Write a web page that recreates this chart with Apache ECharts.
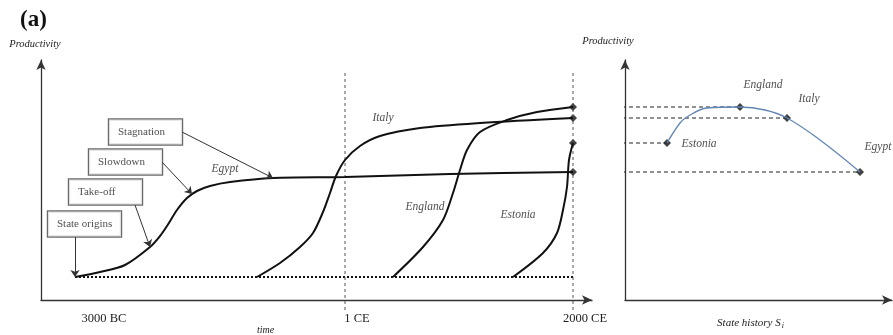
<!DOCTYPE html>
<html>
<head>
<meta charset="utf-8">
<script src="https://cdn.jsdelivr.net/npm/echarts@6/dist/echarts.min.js"></script>
<style>
  html, body { margin: 0; padding: 0; background: #fff; }
  #main { width: 893px; height: 335px; }
</style>
</head>
<body>
<div id="main"></div>
<script>
// schematic units: x = position along the axis, y = productivity level
// left panel (time)
var egyptX   = [34, 59, 84, 109, 119, 126, 136, 146, 156, 169, 189, 232, 304, 409, 532];
var egyptY   = [23, 28, 35, 53, 64, 74, 90, 102, 109, 114, 118, 122, 123, 126, 128];
var italyX   = [216, 239, 259, 272, 282, 289, 295, 304, 319, 339, 379, 439, 532];
var italyY   = [23, 37, 53, 67, 88, 107, 124, 140, 154, 164, 172, 177, 182];
var englandX = [352, 382, 402, 412, 419, 426, 439, 466, 496, 532];
var englandY = [23, 53, 80, 107, 130, 150, 168, 180, 188, 193];
var estoniaX = [472, 502, 516, 522, 526, 528, 532];
var estoniaY = [23, 47, 67, 90, 113, 140, 157];

var baseLevel = 23;
var timeTicks = [34, 304, 532];            // 3000 BC, 1 CE, 2000 CE
var tickLabelPos = [63, 316, 544];
var tickLabelNames = ['3000 BC', '1 CE', '2000 CE'];

// right panel (state history)
var states   = ['Estonia', 'England', 'Italy', 'Egypt'];
var stateX   = [626, 699, 746, 819];
var stateY   = [157, 193, 182, 128];
var histCurveX = [626, 639, 646, 666, 699, 724, 746, 779, 819];
var histCurveY = [157, 177, 183, 192, 193, 190, 182, 160, 128];

// phase boxes on the Egypt curve
var phaseNames = ['Stagnation', 'Slowdown', 'Take-off', 'State origins'];
var phaseBoxX  = [68, 48, 28, 7];
var phaseBoxY  = [168, 138, 108, 76];
var phaseFromX = [141, 121, 94, 34];
var phaseFromY = [168, 138, 95, 63];
var phaseToX   = [232, 151, 109, 34];
var phaseToY   = [122, 106, 53, 23];

// curve name labels
var leftNames  = ['Egypt', 'Italy', 'England', 'Estonia'];
var leftNameX  = [184, 342, 384, 477];
var leftNameY  = [131, 182, 93, 85];
var rightNameX = [658, 722, 768, 837];
var rightNameY = [156, 215, 201, 153];

function zip(xs, ys) {
  var out = [];
  for (var i = 0; i < xs.length; i++) out.push([xs[i], ys[i]]);
  return out;
}

var serif = '"Liberation Serif", "DejaVu Serif", serif';
var ink = '#111';

var axisLineStyle = { color: '#333', width: 1.3 };
function axisLine() {
  return { show: true, onZero: false, symbol: ['none', 'arrow'], symbolSize: [7, 10], lineStyle: axisLineStyle };
}

var series = [];

// dotted base line
series.push({
  type: 'line', xAxisIndex: 0, yAxisIndex: 0, symbol: 'none', silent: true,
  data: [[timeTicks[0], baseLevel], [timeTicks[2], baseLevel]],
  lineStyle: { color: ink, width: 2, type: [2, 2] }
});

// vertical dashed lines at 1 CE and 2000 CE
[timeTicks[1], timeTicks[2]].forEach(function (x) {
  series.push({
    type: 'line', xAxisIndex: 0, yAxisIndex: 0, symbol: 'none', silent: true, clip: false,
    data: [[x, -10], [x, 227]],
    lineStyle: { color: '#555', width: 1, type: [3, 3] }
  });
});

// country curves
[[egyptX, egyptY], [italyX, italyY], [englandX, englandY], [estoniaX, estoniaY]].forEach(function (c) {
  series.push({
    type: 'line', xAxisIndex: 0, yAxisIndex: 0, symbol: 'none', smooth: 0.3, silent: true,
    data: zip(c[0], c[1]),
    lineStyle: { color: ink, width: 2 }
  });
});

// connectors from 2000 CE to state history points
for (var i = 0; i < states.length; i++) {
  series.push({
    type: 'line', xAxisIndex: 1, yAxisIndex: 1, symbol: 'none', silent: true, clip: false,
    data: [[timeTicks[2], stateY[i]], [stateX[i], stateY[i]]],
    lineStyle: { color: '#222', width: 1.2, type: [4, 3] }
  });
}

// end diamonds at 2000 CE
series.push({
  type: 'scatter', xAxisIndex: 0, yAxisIndex: 0, symbol: 'diamond', symbolSize: 8, silent: true,
  data: stateY.map(function (y) { return [timeTicks[2], y]; }),
  itemStyle: { color: ink }
});

// state history curve
series.push({
  type: 'line', xAxisIndex: 1, yAxisIndex: 1, symbol: 'none', smooth: 0.4, silent: true,
  data: zip(histCurveX, histCurveY),
  lineStyle: { color: '#6386b4', width: 1.3 }
});
series.push({
  type: 'scatter', xAxisIndex: 1, yAxisIndex: 1, symbol: 'diamond', symbolSize: 8, silent: true,
  data: zip(stateX, stateY),
  itemStyle: { color: ink }
});

// phase boxes with arrows
series.push({
  type: 'scatter', xAxisIndex: 0, yAxisIndex: 0, symbolSize: 0, silent: true,
  data: phaseNames.map(function (n, i) {
    return { name: n, value: [phaseBoxX[i], phaseBoxY[i]] };
  }),
  label: {
    show: true, position: 'right', distance: 0,
    formatter: '{b}', fontFamily: serif, fontSize: 11, color: '#222',
    backgroundColor: '#fff', borderColor: '#444', borderWidth: 1.2,
    padding: [7, 8, 6, 9], width: 56, lineHeight: 12, overflow: 'none'
  },
  markLine: {
    silent: true, symbol: ['none', 'arrow'], symbolSize: 7,
    label: { show: false },
    lineStyle: { color: '#333', width: 1, type: 'solid' },
    data: phaseNames.map(function (n, i) {
      return [{ coord: [phaseFromX[i], phaseFromY[i]] }, { coord: [phaseToX[i], phaseToY[i]] }];
    })
  },
  z: 5
});

// country names
var nameLabel = { show: true, position: 'inside', formatter: '{b}', fontFamily: serif, fontStyle: 'italic', fontSize: 11.5, color: '#222' };
series.push({
  type: 'scatter', xAxisIndex: 0, yAxisIndex: 0, symbolSize: 0, silent: true,
  data: leftNames.map(function (n, i) { return { name: n, value: [leftNameX[i], leftNameY[i]] }; }),
  label: nameLabel
});
series.push({
  type: 'scatter', xAxisIndex: 1, yAxisIndex: 1, symbolSize: 0, silent: true, clip: false,
  data: states.map(function (n, i) { return { name: n, value: [rightNameX[i], rightNameY[i]] }; }),
  label: nameLabel
});

var chart = echarts.init(document.getElementById('main'));
chart.setOption({
  animation: false,
  backgroundColor: '#fff',
  title: {
    text: '(a)', left: 15, top: 4,
    textStyle: { fontFamily: serif, fontWeight: 'bold', fontSize: 23, color: '#111' }
  },
  grid: [
    { left: 41, top: 60, width: 551, height: 240, outerBoundsMode: 'none', containLabel: false },
    { left: 625, top: 60, width: 267, height: 240, outerBoundsMode: 'none', containLabel: false }
  ],
  xAxis: [{
    gridIndex: 0, type: 'value', min: 0, max: 551,
    axisLine: axisLine(), axisTick: { show: false }, splitLine: { show: false },
    axisLabel: {
      customValues: tickLabelPos, margin: 12,
      fontFamily: serif, fontSize: 12.5, color: '#222',
      formatter: function (v) { return tickLabelNames[tickLabelPos.indexOf(v)]; }
    },
    name: 'time', nameLocation: 'middle', nameGap: 25, nameMoveOverlap: false,
    nameTextStyle: { fontFamily: serif, fontStyle: 'italic', fontSize: 10, color: '#222', padding: [0, 102, 0, 0] }
  }, {
    gridIndex: 1, type: 'value', min: 584, max: 851,
    axisLine: axisLine(), axisTick: { show: false }, splitLine: { show: false },
    axisLabel: { show: false },
    name: '{a|State history S}{b|i}', nameLocation: 'middle', nameGap: 17, nameMoveOverlap: false,
    nameTextStyle: {
      padding: [0, 16, 0, 0],
      rich: {
        a: { fontFamily: serif, fontStyle: 'italic', fontSize: 11, color: '#222' },
        b: { fontFamily: serif, fontStyle: 'italic', fontSize: 8, color: '#222', padding: [5, 0, 0, 1] }
      }
    }
  }],
  yAxis: [{
    gridIndex: 0, type: 'value', min: 0, max: 240,
    axisLine: axisLine(), axisTick: { show: false }, splitLine: { show: false },
    axisLabel: { show: false },
    name: 'Productivity', nameLocation: 'end', nameGap: 10,
    nameTextStyle: { fontFamily: serif, fontStyle: 'italic', fontSize: 10.5, color: '#222', padding: [0, 12, 0, 0] }
  }, {
    gridIndex: 1, type: 'value', min: 0, max: 240,
    axisLine: axisLine(), axisTick: { show: false }, splitLine: { show: false },
    axisLabel: { show: false },
    name: 'Productivity', nameLocation: 'end', nameGap: 13,
    nameTextStyle: { fontFamily: serif, fontStyle: 'italic', fontSize: 10.5, color: '#222', padding: [0, 34, 0, 0] }
  }],
  series: series
});
</script>
</body>
</html>
